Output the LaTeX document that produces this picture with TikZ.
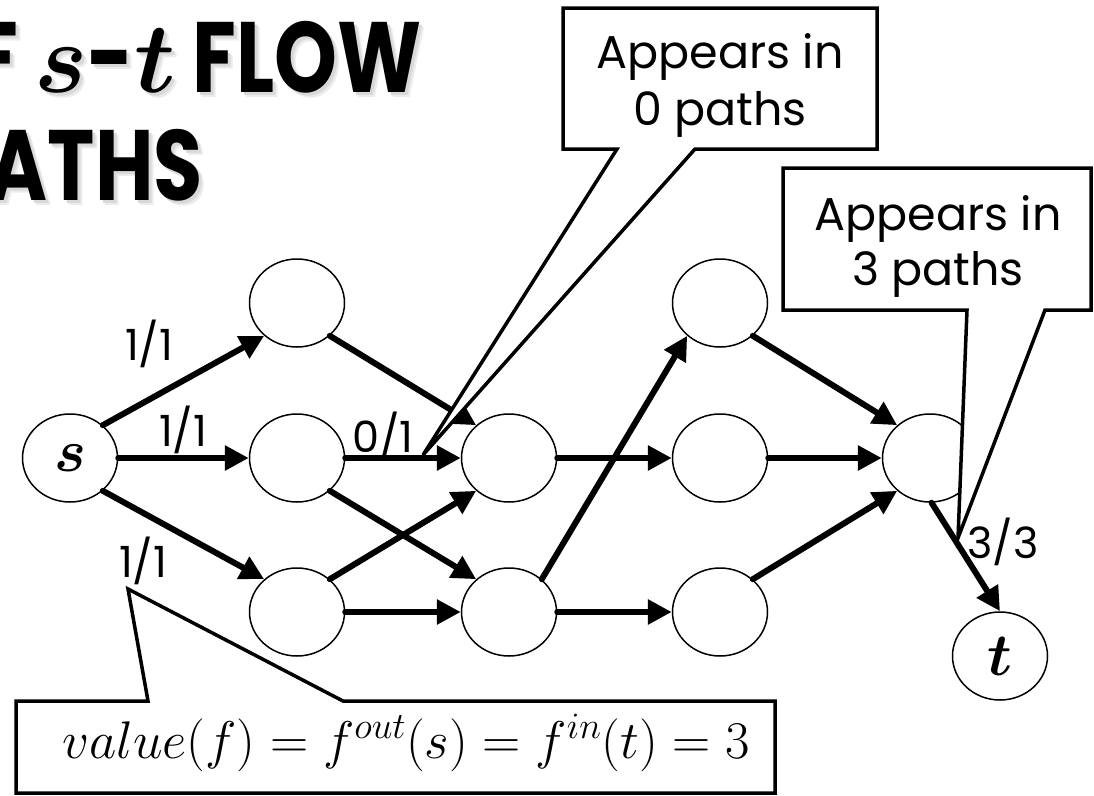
\RequirePackage{fix-cm}
\documentclass[tikz,border=0pt]{standalone}
\usepackage{amsmath}
\usepackage[no-math]{fontspec}
\setmainfont{Poppins}
\newfontfamily\titlefont{Poppins}[FakeStretch=0.8]
\usetikzlibrary{arrows.meta,shapes.geometric}

\begin{document}
\begin{tikzpicture}[x=1pt,y=-1pt,
	vert/.style={draw,ellipse,line width=1.5pt,minimum width=95pt,minimum height=88pt,inner sep=0pt,fill=white,font=\fontsize{60}{60}\selectfont},
	flow/.style={line width=6pt,line cap=round,-{Triangle[length=24pt,width=24pt]}},
	lbl/.style={inner sep=0pt,font=\fontsize{43}{43}\selectfont},
	callout/.style={draw,line width=3.5pt,fill=white},
	note/.style={anchor=base,inner sep=0pt,font=\fontsize{46}{46}\selectfont},
	ttl/.style={anchor=base east,inner sep=0pt,font=\titlefont\bfseries\fontsize{100}{100}\selectfont}]
	\useasboundingbox (0,0) rectangle (1094,795);
	\clip (0,0) rectangle (1094,795);
	
	\foreach \o/\c in {5/gray!15,3/gray!30}{
		\node[ttl,\c] at (422+\o,92+\o) {F $\boldsymbol{s}$-$\boldsymbol{t}$ FLOW};
		\node[ttl,\c] at (203+\o,200+\o) {ATHS};
	}
	\node[ttl] (ttla) at (422,92) {F $\boldsymbol{s}$-$\boldsymbol{t}$ FLOW};
	\node[ttl] (ttlb) at (203,200) {ATHS};
	
	\node[vert] (s) at (70,458) {$\boldsymbol{s}$};
	\node[vert] (a1) at (297,303) {};
	\node[vert] (a2) at (297,458) {};
	\node[vert] (a3) at (297,612) {};
	\node[vert] (b2) at (509,458) {};
	\node[vert] (b3) at (509,612) {};
	\node[vert] (c1) at (720,303) {};
	\node[vert] (c2) at (720,458) {};
	\node[vert] (c3) at (720,612) {};
	\node[vert] (d) at (930,458) {};
	\node[vert] (t) at (1000,656) {$\boldsymbol{t}$};
	
	\foreach \a/\b in {s.45/a1.225,s.0/a2.180,s.-45/a3.135,a1.-45/b2.135,a2.0/b2.180,a2.-45/b3.135,a3.45/b2.225,a3.0/b3.180,
		b2.0/c2.180,b3.45/c1.225,b3.0/c3.180,c1.-45/d.135,c2.0/d.180,c3.45/d.225,d.-88/t.90}
		\draw[flow] (\a) -- (\b);
	
	\node[lbl] (f1) at (149,344) {1/1};
	\node[lbl] (f2) at (183,430) {1/1};
	\node[lbl] (f3) at (143,561) {1/1};
	\node[lbl] (f4) at (383,436) {0/1};
	
	\draw[callout] (563,8) -- (877,8) -- (877,149) -- (695,149) -- (423,455) -- (617,149) -- (563,149) -- cycle;
	\node[note] (n0a) at (720,68) {Appears in};
	\node[note] (n0b) at (720,125) {0 paths};
	
	\draw[callout] (783,168) -- (1091,168) -- (1091,310) -- (1045,310) -- (958,538) -- (967,310) -- (783,310) -- cycle;
	\node[note] (n3a) at (938,230) {Appears in};
	\node[note] (n3b) at (938,285) {3 paths};
	\node[lbl] (f5) at (1003,542) {3/3};
	
	\draw[callout] (16,701) -- (148,701) -- (128,589) -- (343,701) -- (775,701) -- (775,793) -- (16,793) -- cycle;
	\node[anchor=base,inner sep=0pt,font=\fontsize{53}{53}\selectfont] (val) at (406,758) {$value(f)=f^{out}(s)=f^{in}(t)=3$};
\end{tikzpicture}
\end{document}
